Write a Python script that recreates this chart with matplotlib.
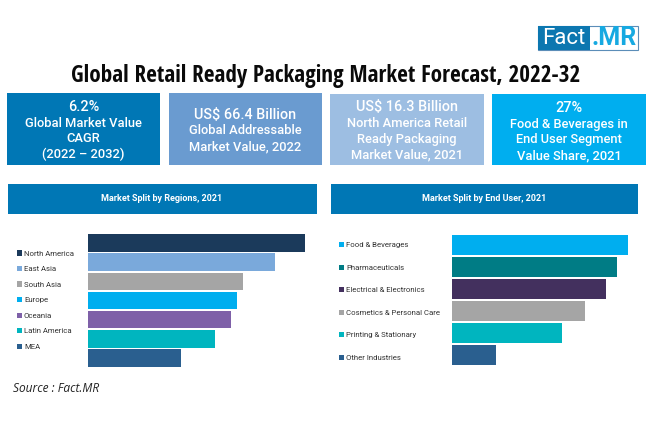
import matplotlib
matplotlib.use("Agg")
import matplotlib.pyplot as plt
from matplotlib.patches import Patch, Rectangle

W, H = 650, 443

title = "Global Retail Ready Packaging Market Forecast, 2022-32"
regions = ["North America", "East Asia", "South Asia", "Europe", "Oceania", "Latin America", "MEA"]
region_values = [100, 86, 71.3, 68.7, 65.8, 58.7, 42.7]
region_colors = ["#1B3A5B", "#7AA9DB", "#A5A5A5", "#00AEEF", "#7E60A8", "#00B5BF", "#2A5F8F"]
users = ["Food & Beverages", "Pharmaceuticals", "Electrical & Electronics",
         "Cosmetics & Personal Care", "Printing & Stationary", "Other Industries"]
user_values = [27, 25.3, 23.6, 20.3, 16.9, 6.7]
user_colors = ["#00AEEF", "#007C85", "#43305E", "#A5A5A5", "#00B5BF", "#2A5F8F"]

fig = plt.figure(figsize=(W / 100, H / 100), dpi=100, facecolor="white")
FONT = ["Roboto", "DejaVu Sans"]

bg = fig.add_axes([0, 0, 1, 1])
bg.set_xlim(0, W)
bg.set_ylim(H, 0)
bg.axis("off")


def box(x0, y0, x1, y1, color, edge="none"):
    bg.add_patch(Rectangle((x0, y0), x1 - x0, y1 - y0, fc=color, ec=edge, lw=0.8))


bg.text(325.5, 76, title, ha="center", va="center", fontsize=16.7, fontweight="bold",
        family=["Open Sans Condensed", "Roboto Condensed", "DejaVu Sans"], color="#0a0a0a")

# logo
box(538, 26, 638, 50, "white", "#5B8DB8")
box(538, 26, 590, 50, "#0C77B0")
bg.text(564, 38, "Fact", ha="center", va="center", fontsize=16, color="white", family=FONT)
bg.text(614.5, 38, ".MR", ha="center", va="center", fontsize=18, fontweight="bold",
        color="#16A9E1", family=FONT)

cards = [
    (7, 93, 160, 165, "#0077B5", [("6.2%", 107), ("Global Market Value", 123), ("CAGR", 139), ("(2022 – 2032)", 154)], 107),
    (169, 93, 322, 165, "#6A9BD0", [("US$ 66.4 Billion", 114.5), ("Global Addressable", 131), ("Market Value, 2022", 147)], 114.5),
    (330, 94, 484, 165, "#9DBEE2", [("US$ 16.3 Billion", 107), ("North America Retail", 123.5), ("Ready Packaging", 140), ("Market Value, 2021", 155)], 107),
    (492, 94, 646, 165, "#00AEEF", [("27%", 107.5), ("Food & Beverages in", 124), ("End User Segment", 140), ("Value Share, 2021", 155.5)], 107.5),
]
for x0, y0, x1, y1, c, lines, first in cards:
    box(x0, y0, x1, y1, c)
    for s, y in lines:
        big = y == first
        bg.text((x0 + x1) / 2, y, s, ha="center", va="center", color="white", family=FONT,
                fontsize=10.4 if big else 9.3, fontweight="medium")

box(8, 183.5, 317, 213.5, "#0077B5")
box(331, 183.5, 638, 213.5, "#0077B5")
bg.text(162, 198.5, "Market Split by Regions, 2021", ha="center", va="center", color="white",
        fontsize=6.5, fontweight="bold", family=FONT)
bg.text(484, 198.5, "Market Split by End User, 2021", ha="center", va="center", color="white",
        fontsize=6.5, fontweight="bold", family=FONT)
bg.text(13, 388, "Source : Fact.MR", ha="left", va="center", fontsize=8.6, style="italic",
        color="#222222", family=["Open Sans", "DejaVu Sans"])


def panel(x0, x1, y0, y1, names, values, colors, xmax, lx, ly, spacing):
    ax = fig.add_axes([x0 / W, 1 - y1 / H, (x1 - x0) / W, (y1 - y0) / H])
    ax.barh(names, values, height=0.9, color=colors)
    ax.set_xlim(0, xmax)
    ax.set_ylim(len(names) - 0.5, -0.5)
    ax.axis("off")
    handles = [Patch(fc=c, ec="none") for c in colors]
    fig.legend(handles, names, loc="upper left", bbox_to_anchor=(lx / W, 1 - ly / H),
               frameon=False, handlelength=0.65, handleheight=0.65,
               handletextpad=0.25, labelspacing=spacing, borderaxespad=0, borderpad=0,
               labelcolor="#333333", prop={"family": FONT, "size": 5.55})


panel(88, 305, 233.3, 367.7, regions, region_values, region_colors, 100, 17, 250.4, 1.2)
panel(452.3, 628.3, 234, 366, users, user_values, user_colors, 27, 339, 242, 2.11)

fig.savefig("out.png", dpi=100)
